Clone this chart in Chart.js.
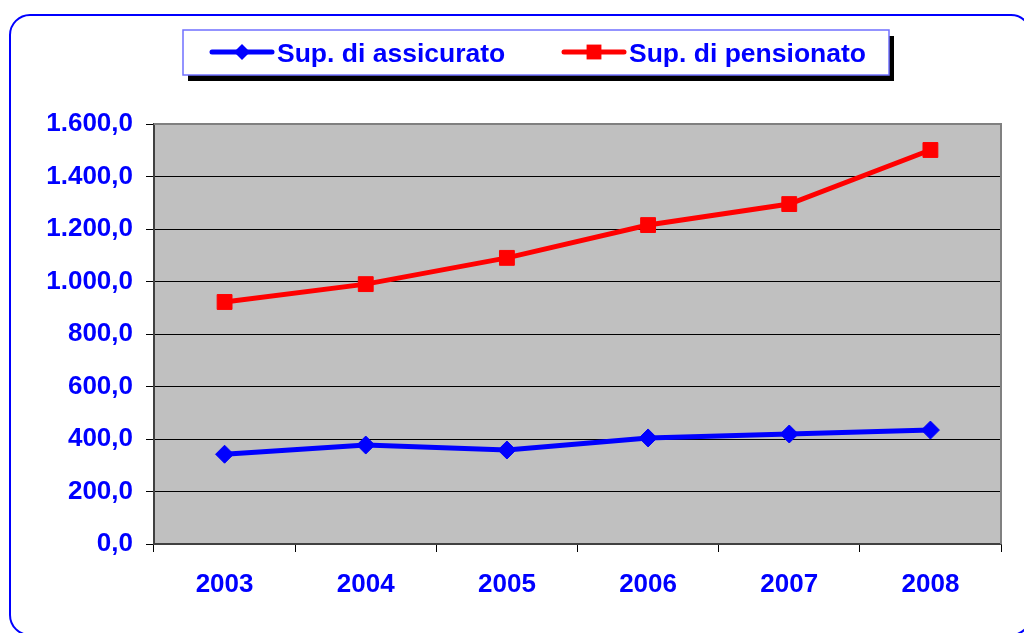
<!DOCTYPE html>
<html>
<head>
<meta charset="utf-8">
<script src="https://cdn.jsdelivr.net/npm/chart.js@4"></script>
<style>
  html, body { margin: 0; padding: 0; background: #fff; }
  #wrap { width: 1024px; height: 633px; position: relative; }
</style>
</head>
<body>
<div id="wrap"><canvas id="chart"></canvas></div>
<script>
// ── data ──
const years = ['2003', '2004', '2005', '2006', '2007', '2008'];
const assicurato = [342, 377, 358, 404, 419, 434];
const pensionato = [922, 990, 1090, 1215, 1295, 1501];
const yTicks = [0, 200, 400, 600, 800, 1000, 1200, 1400, 1600];

const BLUE = '#0000ff';
const RED = '#ff0000';
const FONT = "'Liberation Sans', Arial, sans-serif";

// 1.600,0 style
function fmt(v) {
  const s = String(Math.round(v)).replace(/\B(?=(\d{3})+(?!\d))/g, '.');
  return s + ',0';
}

function marker(ctx, style, x, y, r, color) {
  ctx.fillStyle = color;
  ctx.beginPath();
  if (style === 'rect') {
    const s = r * Math.SQRT1_2;
    ctx.rect(x - s, y - s, 2 * s, 2 * s);
  } else {
    ctx.moveTo(x, y - r); ctx.lineTo(x + r, y);
    ctx.lineTo(x, y + r); ctx.lineTo(x - r, y);
    ctx.closePath();
  }
  ctx.fill();
}

// frame, plot background, plot border, legend
const decor = {
  id: 'decor',
  beforeDraw(chart) {
    const { ctx, chartArea: a } = chart;
    ctx.save();
    ctx.fillStyle = '#c0c0c0';
    ctx.fillRect(a.left, a.top, a.right - a.left, a.bottom - a.top);
    ctx.restore();
  },
  afterDraw(chart) {
    const { ctx, chartArea: a } = chart;
    ctx.save();
    // outer rounded frame
    ctx.strokeStyle = BLUE;
    ctx.lineWidth = 2;
    ctx.beginPath();
    ctx.roundRect(10, 15, 1021, 620, 20);
    ctx.stroke();
    // plot border top/right
    ctx.strokeStyle = '#808080';
    ctx.lineWidth = 2;
    ctx.beginPath();
    ctx.moveTo(a.left, a.top); ctx.lineTo(a.right, a.top); ctx.lineTo(a.right, a.bottom);
    ctx.stroke();

    // legend box with shadow
    const lx = 183, ly = 30, lw = 706, lh = 45;
    ctx.fillStyle = '#000';
    ctx.fillRect(lx + 5, ly + 6, lw, lh);
    ctx.fillStyle = '#fff';
    ctx.fillRect(lx, ly, lw, lh);
    ctx.strokeStyle = '#7070ff';
    ctx.lineWidth = 1.5;
    ctx.strokeRect(lx, ly, lw, lh);

    const items = [
      { x: 212, ds: chart.data.datasets[0], style: 'rectRot', r: 8 },
      { x: 564, ds: chart.data.datasets[1], style: 'rect', r: 10.5 }
    ];
    const cy = 52;
    items.forEach(it => {
      ctx.strokeStyle = it.ds.borderColor;
      ctx.lineWidth = 5;
      ctx.lineCap = 'round';
      ctx.beginPath();
      ctx.moveTo(it.x, cy); ctx.lineTo(it.x + 60, cy);
      ctx.stroke();
      marker(ctx, it.style, it.x + 30, cy, it.r, it.ds.borderColor);
      ctx.fillStyle = BLUE;
      ctx.font = 'bold 26.5px ' + FONT;
      ctx.textBaseline = 'middle';
      ctx.textAlign = 'left';
      ctx.fillText(it.ds.label, it.x + 65, cy + 3);
    });
    ctx.restore();
  }
};

new Chart(document.getElementById('chart'), {
  type: 'line',
  data: {
    labels: years,
    datasets: [
      {
        label: 'Sup. di assicurato',
        data: assicurato,
        borderColor: BLUE,
        backgroundColor: BLUE,
        borderWidth: 5,
        pointStyle: 'rectRot',
        pointRadius: 9,
        pointBorderWidth: 1,
        tension: 0
      },
      {
        label: 'Sup. di pensionato',
        data: pensionato,
        borderColor: RED,
        backgroundColor: RED,
        borderWidth: 5,
        pointStyle: 'rect',
        pointRadius: 10.5,
        pointBorderWidth: 1,
        tension: 0
      }
    ]
  },
  options: {
    responsive: true,
    maintainAspectRatio: false,
    animation: false,
    layout: { padding: { top: 124, right: 23, bottom: 0, left: 0 } },
    plugins: {
      legend: { display: false },
      tooltip: { enabled: false }
    },
    scales: {
      x: {
        offset: true,
        grid: { offset: true, drawOnChartArea: false, drawTicks: true, tickLength: 8, color: '#000' },
        border: { color: '#404040', width: 2 },
        ticks: {
          color: BLUE,
          font: { family: FONT, size: 26, weight: 'bold' },
          padding: 17,
          maxRotation: 0
        },
        afterFit(scale) { scale.height = 89; }
      },
      y: {
        min: 0,
        max: 1600,
        afterBuildTicks(scale) { scale.ticks = yTicks.map(v => ({ value: v })); },
        grid: { color: '#000', lineWidth: 1, tickLength: 8 },
        border: { color: '#404040', width: 2 },
        ticks: {
          color: BLUE,
          font: { family: FONT, size: 26, weight: 'bold' },
          padding: 13,
          callback: v => fmt(v)
        },
        afterFit(scale) { scale.width = 154; }
      }
    }
  },
  plugins: [decor]
});
</script>
</body>
</html>
